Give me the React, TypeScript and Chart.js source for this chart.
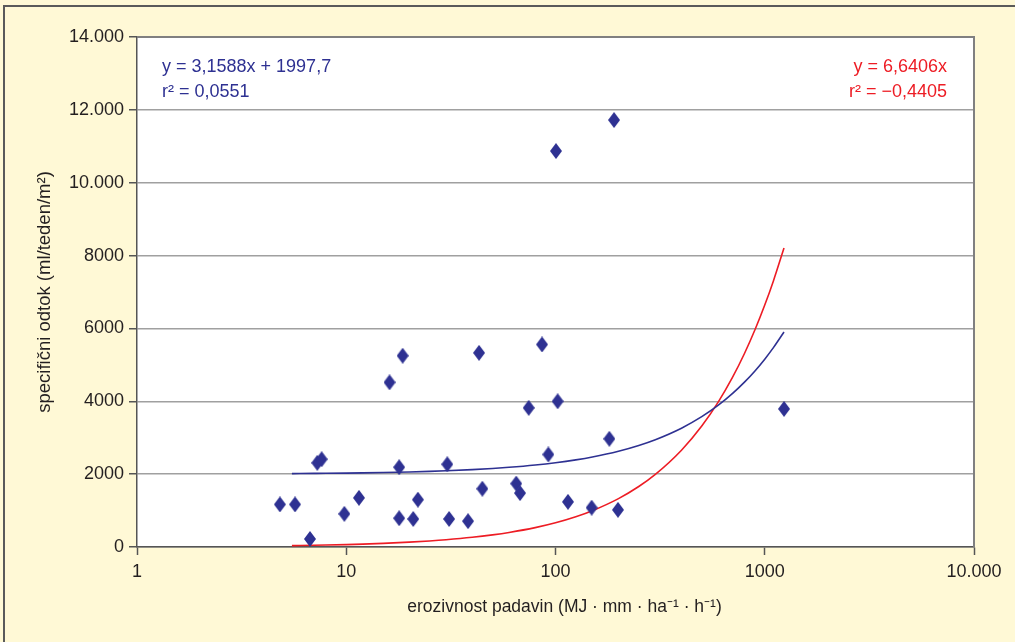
import React, { useEffect, useRef } from 'react';
import { Chart, registerables } from 'chart.js';

Chart.register(...registerables);

// Measured data: rainfall erosivity (x) vs specific runoff (y)
const erosivity = [4.82, 5.69, 6.71, 7.27, 7.63, 9.79, 11.5, 16.1, 17.9, 17.9, 18.6, 20.9, 22.0, 30.4, 31.0, 38.2, 43.1, 44.7, 64.9, 67.7, 74.5, 86.2, 92.4, 100.5, 102.4, 114.7, 148.9, 180.8, 190.4, 198.9, 1236];
const runoff = [1170, 1170, 220, 2310, 2410, 910, 1350, 4520, 2190, 790, 5250, 770, 1300, 2270, 770, 710, 5330, 1600, 1740, 1480, 3820, 5560, 2540, 10870, 4000, 1240, 1080, 2970, 11720, 1020, 3790];

// Trend lines as printed on the chart
const linearSlope = 3.1588;
const linearIntercept = 1997.7;
const throughOriginSlope = 6.6406;
const trendX = [5.5, 6, 7, 8, 10, 12, 15, 20, 25, 30, 40, 50, 60, 80, 100, 125, 150, 200, 250, 300, 400, 500, 600, 700, 800, 900, 1000, 1100, 1236];

const xTickValues = [1, 10, 100, 1000, 10000];
const xTickLabels = ['1', '10', '100', '1000', '10.000'];
const yTickValues = [0, 2000, 4000, 6000, 8000, 10000, 12000, 14000];
const yTickLabels = ['0', '2000', '4000', '6000', '8000', '10.000', '12.000', '14.000'];

const blueEq = ['y = 3,1588x + 1997,7', 'r² = 0,0551'];
const redEq = ['y = 6,6406x', 'r² = −0,4405'];
const xTitle = 'erozivnost padavin (MJ · mm · ha⁻¹ · h⁻¹)';
const yTitle = 'specifični odtok (ml/teden/m²)';

const BLUE = '#2e3192';
const RED = '#ed1c24';
const CREAM = '#fff9d6';
const TEXT = '#231f20';
const FONT = '"Liberation Sans", Arial, Helvetica, sans-serif';

export default function App() {
  const ref = useRef<HTMLCanvasElement>(null);

  useEffect(() => {
    const canvas = ref.current;
    if (!canvas) return;

    const diamond = document.createElement('canvas');
    diamond.width = 12;
    diamond.height = 16;
    const dctx = diamond.getContext('2d')!;
    dctx.fillStyle = BLUE;
    dctx.beginPath();
    dctx.moveTo(6, 0);
    dctx.lineTo(12, 8);
    dctx.lineTo(6, 16);
    dctx.lineTo(0, 8);
    dctx.closePath();
    dctx.fill();

    const plotDecor = {
      id: 'plotDecor',
      beforeDraw(chart: any) {
        const { ctx, chartArea } = chart;
        ctx.save();
        ctx.fillStyle = '#ffffff';
        ctx.fillRect(chartArea.left, chartArea.top, chartArea.right - chartArea.left, chartArea.bottom - chartArea.top);
        ctx.restore();
      },
      afterDraw(chart: any) {
        const { ctx, chartArea } = chart;
        ctx.save();
        ctx.strokeStyle = '#808080';
        ctx.lineWidth = 2;
        ctx.beginPath();
        ctx.moveTo(chartArea.left, chartArea.top);
        ctx.lineTo(chartArea.right, chartArea.top);
        ctx.lineTo(chartArea.right, chartArea.bottom);
        ctx.stroke();
        ctx.font = '18px ' + FONT;
        ctx.textBaseline = 'alphabetic';
        ctx.fillStyle = BLUE;
        ctx.textAlign = 'left';
        ctx.fillText(blueEq[0], chartArea.left + 25, chartArea.top + 35);
        ctx.fillText(blueEq[1], chartArea.left + 25, chartArea.top + 60);
        ctx.fillStyle = RED;
        ctx.textAlign = 'right';
        ctx.fillText(redEq[0], chartArea.right - 27, chartArea.top + 35);
        ctx.fillText(redEq[1], chartArea.right - 27, chartArea.top + 60);
        // x-axis title (slightly right of centre, as in the original)
        ctx.fillStyle = TEXT;
        ctx.textAlign = 'center';
        ctx.textBaseline = 'middle';
        ctx.font = '17.5px ' + FONT;
        ctx.fillText(xTitle, (chartArea.left + chartArea.right) / 2 + 9, chartArea.bottom + 60);
        ctx.restore();
      },
    };

    const chart = new Chart(canvas, {
      type: 'scatter',
      data: {
        datasets: [
          {
            label: 'linear',
            data: trendX.map((x) => ({ x, y: linearSlope * x + linearIntercept })),
            showLine: true,
            borderColor: BLUE,
            borderWidth: 1.6,
            pointRadius: 0,
            cubicInterpolationMode: 'monotone',
            order: 2,
          } as any,
          {
            label: 'origin',
            data: trendX.map((x) => ({ x, y: throughOriginSlope * x })),
            showLine: true,
            borderColor: RED,
            borderWidth: 1.6,
            pointRadius: 0,
            cubicInterpolationMode: 'monotone',
            order: 2,
          } as any,
          {
            label: 'measured',
            data: erosivity.map((x, i) => ({ x, y: runoff[i] })),
            pointStyle: diamond,
            pointRadius: 7,
            backgroundColor: BLUE,
            borderColor: BLUE,
            order: 1,
          } as any,
        ],
      },
      options: {
        animation: false,
        responsive: false,
        maintainAspectRatio: false,
        layout: { padding: { left: 0, top: 37, right: 41, bottom: 0 } },
        plugins: { legend: { display: false }, tooltip: { enabled: false } },
        scales: {
          x: {
            type: 'logarithmic',
            min: 1,
            max: 10000,
            afterBuildTicks: (s: any) => {
              s.ticks = xTickValues.map((v) => ({ value: v }));
            },
            afterFit: (s: any) => {
              s.height = 95;
            },
            ticks: {
              autoSkip: false,
              maxRotation: 0,
              padding: 6,
              color: TEXT,
              font: { family: FONT, size: 18 },
              callback: (v: any) => {
                const i = xTickValues.indexOf(Number(v));
                return i >= 0 ? xTickLabels[i] : '';
              },
            },
            grid: { drawOnChartArea: false, tickLength: 8, tickColor: '#555555', tickWidth: 1.5 },
            border: { color: '#555555', width: 1.5 },
          },
          y: {
            min: 0,
            max: 14000,
            afterBuildTicks: (s: any) => {
              s.ticks = yTickValues.map((v) => ({ value: v }));
            },
            afterFit: (s: any) => {
              s.width = 137;
            },
            ticks: {
              padding: 5,
              color: TEXT,
              font: { family: FONT, size: 18 },
              callback: (v: any) => {
                const i = yTickValues.indexOf(Number(v));
                return i >= 0 ? yTickLabels[i] : '';
              },
            },
            grid: { color: '#a0a0a0', lineWidth: 1.5, tickLength: 8, tickColor: '#555555', tickWidth: 1.5 },
            border: { color: '#555555', width: 1.5 },
            title: {
              display: true,
              text: yTitle,
              color: TEXT,
              font: { family: FONT, size: 18.5 },
              padding: { top: 34, bottom: 0 },
            },
          },
        },
      } as any,
      plugins: [plotDecor],
    });

    return () => chart.destroy();
  }, []);

  return (
    <div style={{ position: 'fixed', left: 0, top: 0, width: 1015, height: 642, background: CREAM, overflow: 'hidden' }}>
      <div
        style={{
          position: 'absolute',
          left: 3,
          top: 5,
          right: -10,
          bottom: -10,
          borderTop: '2px solid #5a5a5a',
          borderLeft: '2px solid #5a5a5a',
        }}
      />
      <canvas ref={ref} width={1015} height={642} style={{ position: 'absolute', left: 0, top: 0, width: 1015, height: 642 }} />
    </div>
  );
}
